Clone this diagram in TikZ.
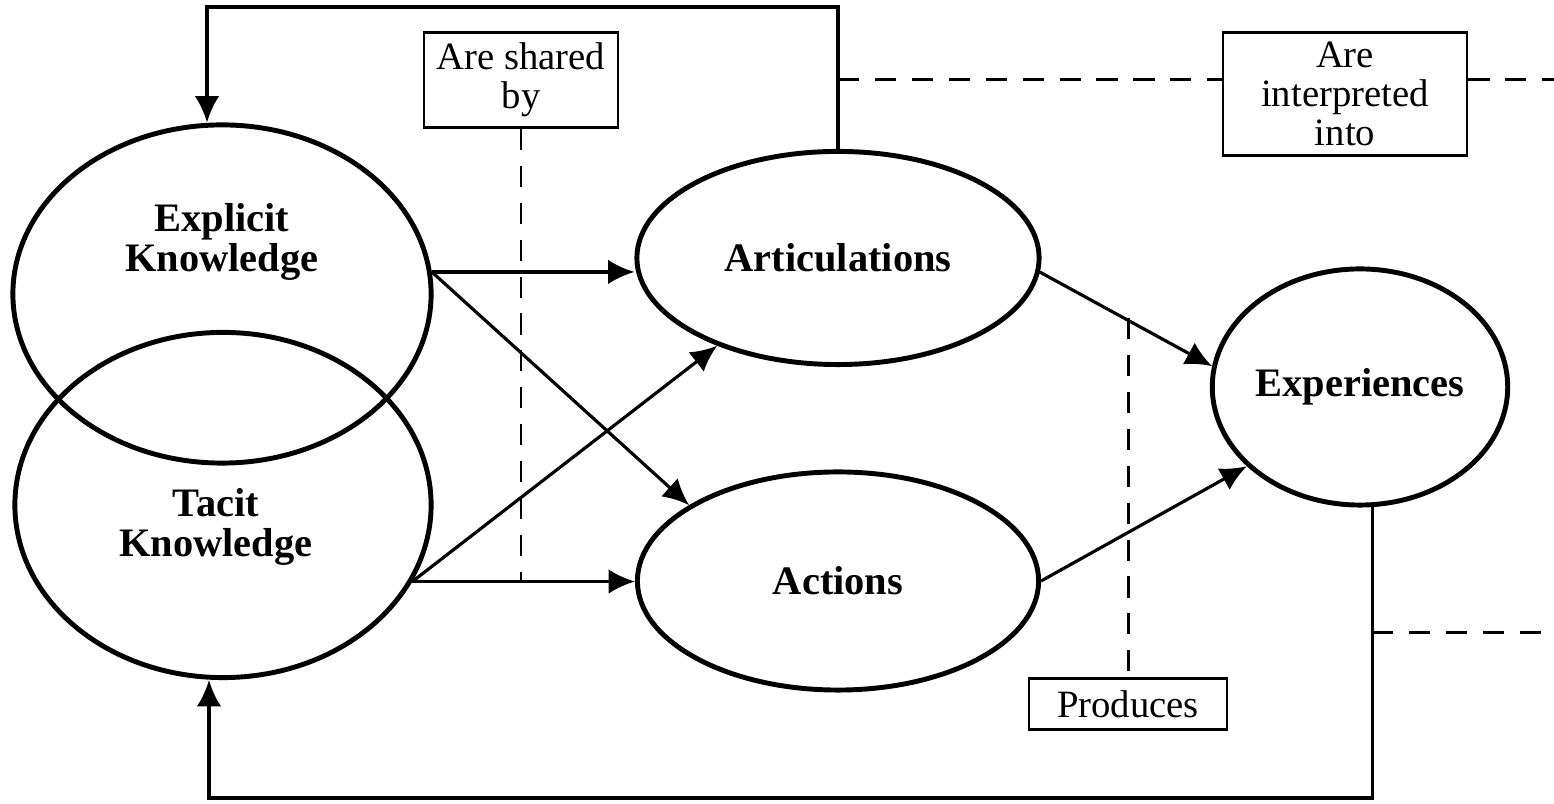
\documentclass[tikz,border=0pt]{standalone}
\usepackage{fontspec}
\setmainfont{Liberation Serif}
\usepackage{tikz}
\usetikzlibrary{shapes}
\usetikzlibrary{arrows.meta}

\begin{document}
\begin{tikzpicture}
        [x=0.01cm, y=-0.01cm,
         >={Latex[length=7.5pt,width=7pt]},
         concept/.style={draw, ellipse, line width=1.4pt, inner sep=0pt,
                         font=\fontsize{11.5}{11.5}\selectfont\bfseries, align=center},
         kname/.style={font=\fontsize{11.5}{11.5}\selectfont\bfseries, align=center},
         verb/.style={draw, rectangle, line width=0.75pt, inner sep=0pt,
                      font=\fontsize{11}{11}\selectfont, align=center},
         link/.style={line width=0.9pt},
         share/.style={line width=0.85pt, dash pattern=on 6pt off 4.5pt}]
        \useasboundingbox (0,0) rectangle (1554,804);

        \node [concept, minimum width=4.18cm, minimum height=3.38cm] (explicit) at (222,294) {};
        \node [concept, minimum width=4.16cm, minimum height=3.45cm] (tacit) at (223,505) {};
        \node [kname] (explicitname) at (222,242) {Explicit\\Knowledge};
        \node [kname] (tacitname) at (216,527) {Tacit\\Knowledge};
        \node [concept, minimum width=4.02cm, minimum height=2.13cm] (artic) at (838,258) {Articulations};
        \node [concept, minimum width=4.01cm, minimum height=2.18cm] (actions) at (838,581) {Actions};
        \node [concept, minimum width=2.66cm, minimum height=2.36cm] (exper) at (1360,387) {Experiences};

        \node [verb, minimum width=1.94cm, minimum height=0.95cm] (shared) at (521,80) {Are shared\\by};
        \node [verb, minimum width=2.44cm, minimum height=1.23cm] (interp) at (1345,94) {Are\\interpreted\\into};
        \node [verb, minimum width=1.98cm, minimum height=0.51cm] (produces) at (1128,704) {Produces};

        \coordinate (top) at (207,7);
        \coordinate (bottom) at (209,798);
        \coordinate (tapa) at (838,80);
        \coordinate (tapb) at (1128,318);
        \coordinate (tapc) at (1372,633);
        \coordinate (rim) at (1554,0);

        \draw [link, ->] (explicit.6.6) -- (explicit.6.6 -| artic.west);
        \draw [link, ->] (explicit.6.6) -- (actions.153);
        \draw [link, ->] (tacit.-22) -- (actions.west |- tacit.-22);
        \draw [link, ->] (tacit.-22) -- (artic.216);
        \draw [link, ->] (artic.-4) -- (exper.172);
        \draw [link, ->] (actions.east) -- (exper.215);
        \draw [link, ->] (artic.north) |- (top) -- (top |- explicit.north);
        \draw [link, ->] (exper.-84) |- (bottom) -- (bottom |- tacit.south);

        \draw [share] (shared.south) -- (shared.south |- tacit.-22);
        \draw [share] (tapa) -- (tapa -| interp.west);
        \draw [share] (tapa -| interp.east) -- (tapa -| rim);
        \draw [share] (tapb) -- (produces.north);
        \draw [share] (tapc) -- (tapc -| rim);
\end{tikzpicture}
\end{document}
